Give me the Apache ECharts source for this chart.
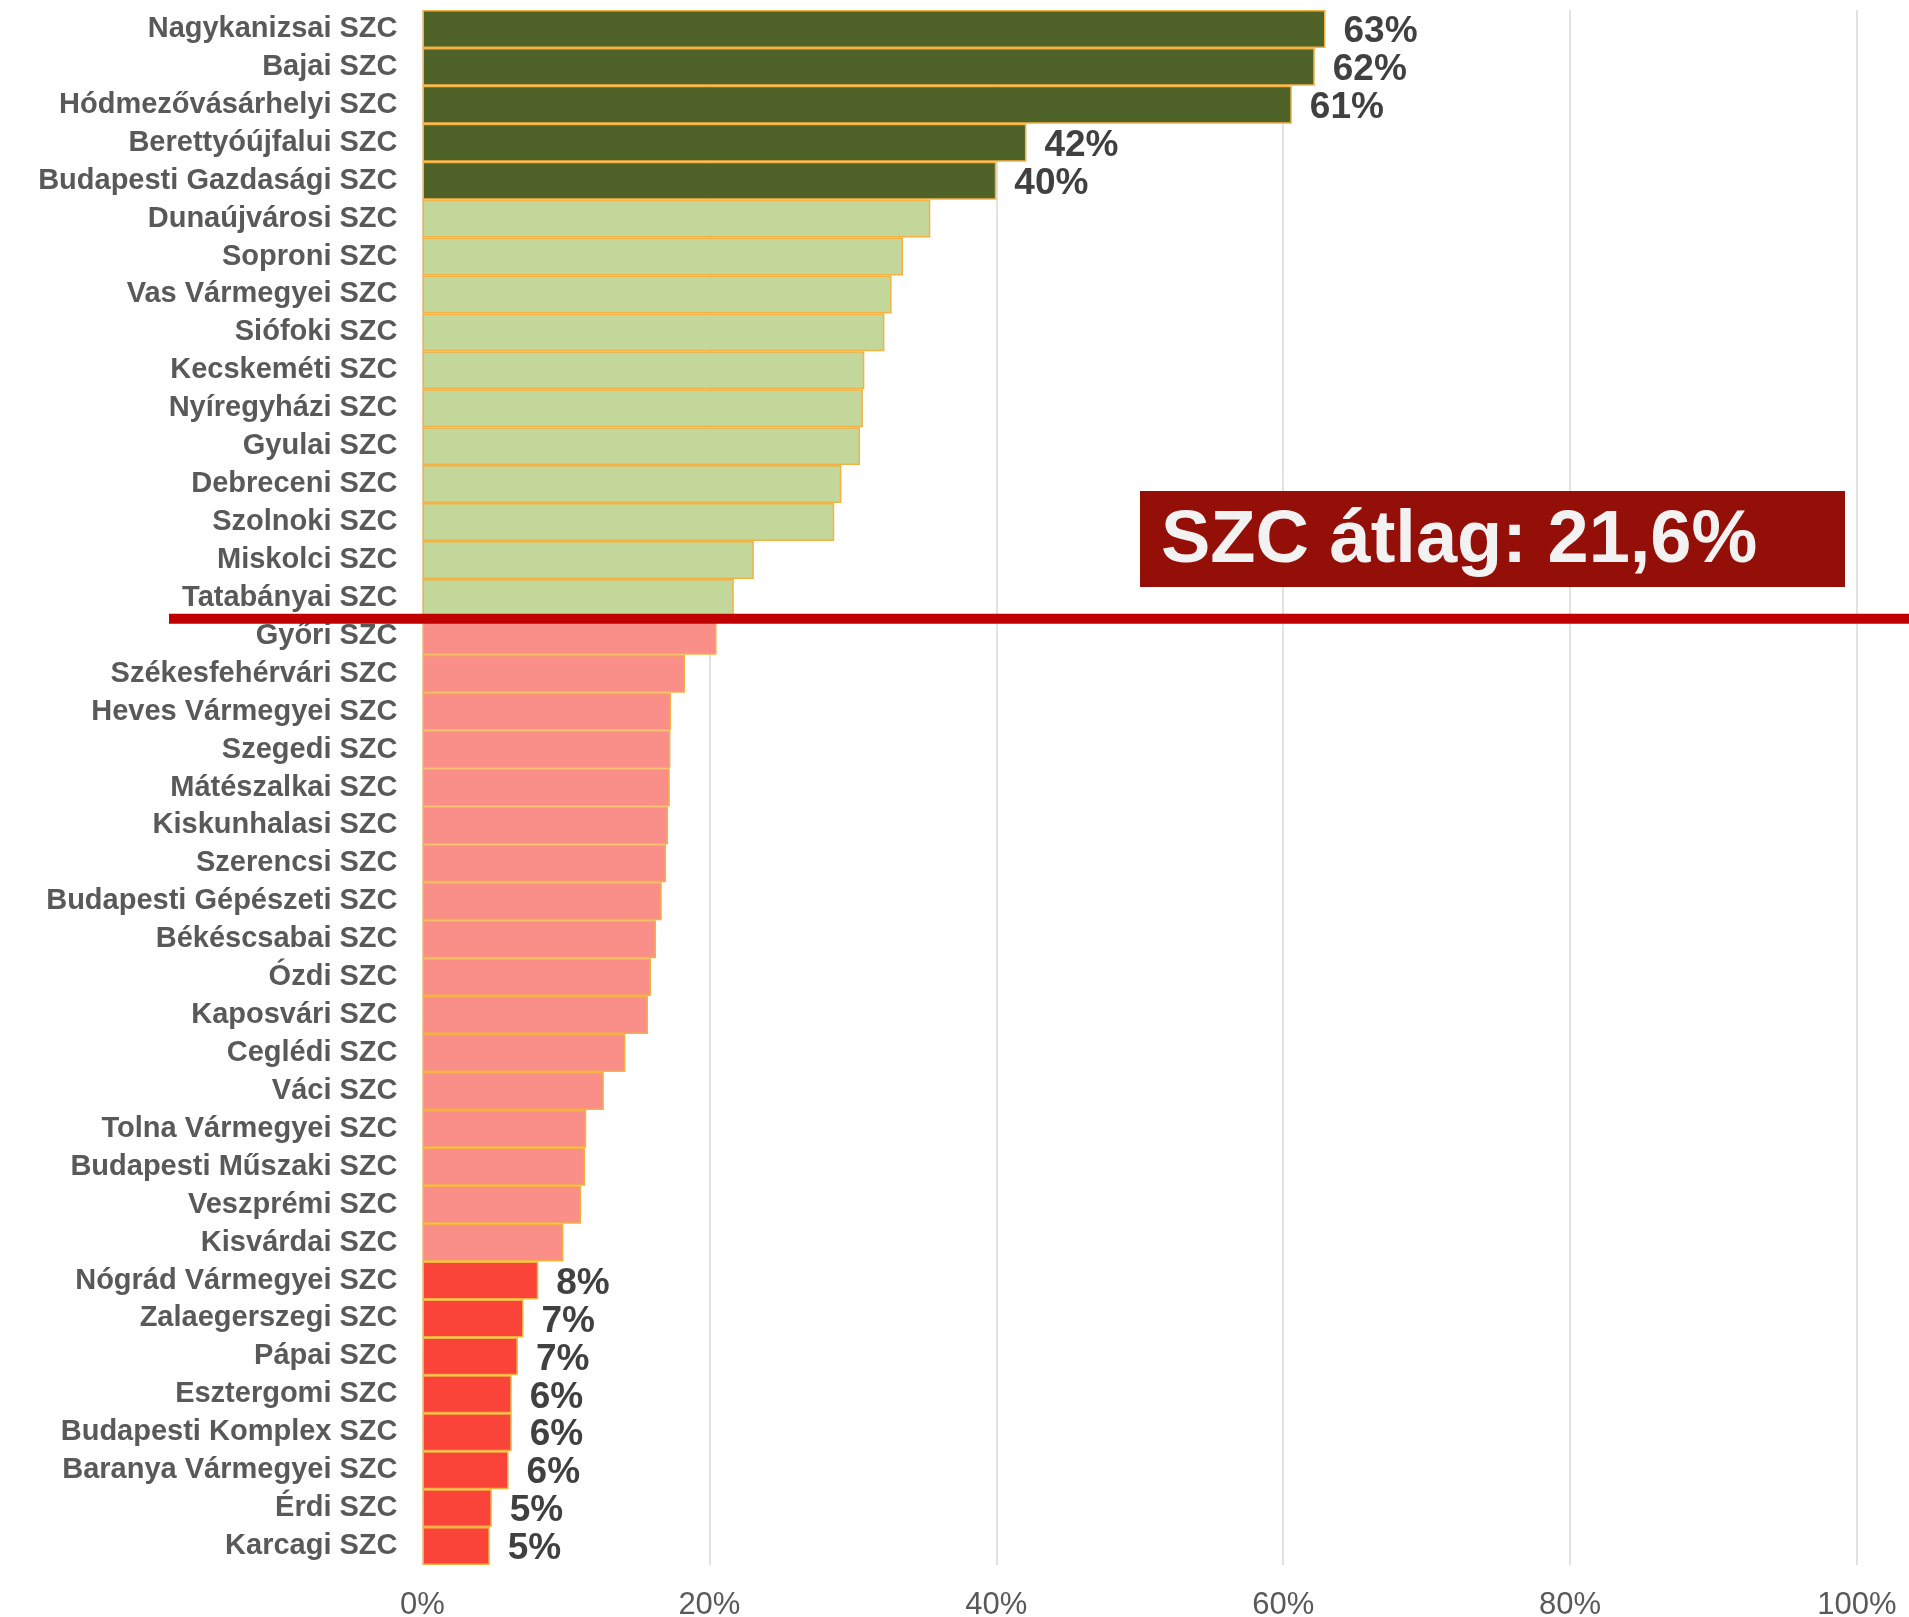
<!DOCTYPE html>
<html>
<head>
<meta charset="utf-8">
<script src="https://cdn.jsdelivr.net/npm/echarts@6/dist/echarts.min.js"></script>
<style>
html,body{margin:0;padding:0;background:#fff;}
#chart{width:1909px;height:1617px;}
</style>
</head>
<body>
<div id="chart"></div>
<script>
const categories = [
  'Nagykanizsai SZC','Bajai SZC','Hódmezővásárhelyi SZC','Berettyóújfalui SZC','Budapesti Gazdasági SZC',
  'Dunaújvárosi SZC','Soproni SZC','Vas Vármegyei SZC','Siófoki SZC','Kecskeméti SZC','Nyíregyházi SZC',
  'Gyulai SZC','Debreceni SZC','Szolnoki SZC','Miskolci SZC','Tatabányai SZC',
  'Győri SZC','Székesfehérvári SZC','Heves Vármegyei SZC','Szegedi SZC','Mátészalkai SZC','Kiskunhalasi SZC',
  'Szerencsi SZC','Budapesti Gépészeti SZC','Békéscsabai SZC','Ózdi SZC','Kaposvári SZC','Ceglédi SZC',
  'Váci SZC','Tolna Vármegyei SZC','Budapesti Műszaki SZC','Veszprémi SZC','Kisvárdai SZC',
  'Nógrád Vármegyei SZC','Zalaegerszegi SZC','Pápai SZC','Esztergomi SZC','Budapesti Komplex SZC',
  'Baranya Vármegyei SZC','Érdi SZC','Karcagi SZC'
];
const values = [
  62.95, 62.2, 60.6, 42.1, 40.0,
  35.4, 33.5, 32.7, 32.2, 30.8, 30.7,
  30.5, 29.2, 28.7, 23.1, 21.7,
  20.5, 18.3, 17.33, 17.28, 17.24, 17.12,
  16.98, 16.68, 16.28, 15.93, 15.72, 14.15,
  12.64, 11.41, 11.34, 11.06, 9.83,
  8.07, 7.04, 6.65, 6.22, 6.22,
  6.0, 4.83, 4.69
];
const averageValue = 21.6;
const topCount = 5;      // highlighted best
const bottomCount = 8;   // highlighted worst
const xTickValues = [0, 20, 40, 60, 80, 100];

const COLORS = { top: '#4F6228', above: '#C4D79B', below: '#FA8E88', bottom: '#FA4339' };
const FONT = "'Liberation Sans', Arial, sans-serif";

function tierOf(i) {
  if (i < topCount) return 'top';
  if (i >= categories.length - bottomCount) return 'bottom';
  return values[i] >= averageValue ? 'above' : 'below';
}
const aboveCount = values.filter(v => v >= averageValue).length;

const barData = values.map((v, i) => {
  const t = tierOf(i);
  const showLabel = t === 'top' || t === 'bottom';
  return {
    value: v,
    itemStyle: { color: COLORS[t] },
    label: { show: showLabel }
  };
});

const chart = echarts.init(document.getElementById('chart'), null, { renderer: 'canvas' });
chart.setOption({
  animation: false,
  backgroundColor: '#ffffff',
  grid: { left: 422.5, right: 52, top: 10, bottom: 52, containLabel: false, outerBoundsMode: 'none' },
  xAxis: {
    type: 'value',
    min: xTickValues[0],
    max: xTickValues[xTickValues.length - 1],
    interval: xTickValues[1] - xTickValues[0],
    axisLine: { show: false },
    axisTick: { show: false },
    splitLine: { show: true, lineStyle: { color: '#D9D9D9', width: 1.5 } },
    axisLabel: {
      formatter: '{value}%',
      color: '#595959',
      fontFamily: FONT,
      fontSize: 31,
      margin: 25
    }
  },
  yAxis: {
    type: 'category',
    inverse: true,
    data: categories,
    axisLine: { show: false },
    axisTick: { show: false },
    splitLine: { show: false },
    axisLabel: {
      color: '#595959',
      fontFamily: FONT,
      fontWeight: 'bold',
      fontSize: 29,
      margin: 25,
      padding: [2, 0, 0, 0]
    }
  },
  series: [
    {
      type: 'bar',
      data: barData,
      barCategoryGap: '0%',
      itemStyle: { borderColor: '#F4B245', borderWidth: 1.5 },
      label: {
        position: 'right',
        distance: 18,
        offset: [0, 3],
        color: '#404040',
        fontFamily: FONT,
        fontWeight: 'bold',
        fontSize: 37,
        formatter: p => Math.round(p.value) + '%'
      },
      z: 2
    },
    {
      type: 'custom',
      coordinateSystem: 'cartesian2d',
      clip: false,
      silent: true,
      z: 10,
      data: [[averageValue, aboveCount]],
      encode: { x: 0, y: 1 },
      renderItem: function (params, api) {
        const idx = api.value(1);
        const yA = api.coord([0, idx - 1])[1];
        const yB = api.coord([0, idx])[1];
        const y = (yA + yB) / 2 + 2;
        return {
          type: 'line',
          shape: { x1: 169, y1: y, x2: api.getWidth(), y2: y },
          style: { stroke: '#C00000', lineWidth: 10 }
        };
      }
    }
  ],
  graphic: [
    {
      type: 'rect',
      left: 1140,
      top: 491,
      z: 100,
      shape: { width: 705, height: 96 },
      style: { fill: '#930F07' }
    },
    {
      type: 'text',
      left: 1161,
      top: 505,
      z: 101,
      style: {
        text: 'SZC átlag: ' + String(averageValue).replace('.', ',') + '%',
        fill: '#F2F2F2',
        font: "bold 74px 'Liberation Sans', Arial, sans-serif"
      }
    }
  ]
});
</script>
</body>
</html>
